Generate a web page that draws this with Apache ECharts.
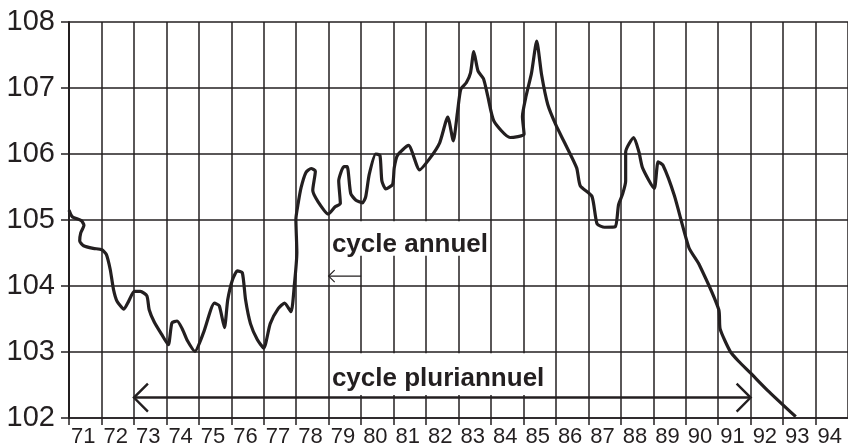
<!DOCTYPE html>
<html>
<head>
<meta charset="utf-8">
<script src="https://cdn.jsdelivr.net/npm/echarts@6/dist/echarts.min.js"></script>
<style>
  html, body { margin: 0; padding: 0; background: #fff; }
  #chart { width: 848px; height: 448px; }
</style>
</head>
<body>
<div id="chart"></div>
<script>
// indice, x = year (71 = 1971), y = index value
var years = [
    71.0, 71.1, 71.38, 71.46, 71.36, 71.33, 71.45, 71.75, 72.01, 72.15,
    72.27, 72.37, 72.48, 72.69, 72.84, 73.01, 73.2, 73.4, 73.47, 73.63,
    73.85, 74.06, 74.17, 74.33, 74.49, 74.65, 74.88, 75.15, 75.48, 75.63,
    75.79, 75.89, 76.04, 76.19, 76.34, 76.44, 76.59, 76.8, 77.0, 77.2,
    77.45, 77.64, 77.84, 77.94, 78.02, 77.99, 78.06, 78.15, 78.3, 78.46,
    78.59, 78.51, 78.67, 78.99, 79.2, 79.36, 79.31, 79.47, 79.57, 79.68,
    79.84, 80.04, 80.14, 80.25, 80.45, 80.58, 80.64, 80.76, 80.97, 81.02,
    81.12, 81.46, 81.8, 82.11, 82.42, 82.67, 82.84, 82.97, 83.07, 83.24,
    83.37, 83.47, 83.6, 83.77, 83.9, 84.09, 84.59, 85.02, 84.97, 85.07,
    85.25, 85.41, 85.56, 85.75, 86.0, 86.27, 86.64, 86.75, 87.11, 87.27,
    87.5, 87.83, 87.93, 88.06, 88.15, 88.15, 88.4, 88.56, 88.67, 89.03,
    89.15, 89.3, 89.65, 90.1, 90.41, 91.02, 91.06, 91.37, 91.63, 92.0,
    92.52, 93.39
];
var index = [
    105.15, 105.05, 104.99, 104.92, 104.8, 104.68, 104.61, 104.57, 104.55, 104.48,
    104.25, 103.95, 103.77, 103.65, 103.77, 103.92, 103.92, 103.85, 103.64, 103.45,
    103.27, 103.11, 103.44, 103.47, 103.35, 103.17, 103.01, 103.3, 103.74, 103.7,
    103.37, 103.79, 104.1, 104.23, 104.2, 103.79, 103.43, 103.19, 103.06, 103.43,
    103.66, 103.74, 103.61, 104.0, 104.51, 105.01, 105.25, 105.49, 105.72, 105.78,
    105.74, 105.45, 105.28, 105.09, 105.2, 105.25, 105.59, 105.81, 105.81, 105.4,
    105.3, 105.26, 105.35, 105.69, 106.0, 105.98, 105.59, 105.47, 105.54, 105.79,
    105.98, 106.13, 105.76, 105.93, 106.17, 106.56, 106.2, 106.64, 106.98, 107.08,
    107.23, 107.55, 107.26, 107.14, 106.88, 106.5, 106.25, 106.3, 106.57, 106.85,
    107.23, 107.71, 107.2, 106.75, 106.44, 106.17, 105.79, 105.52, 105.36, 104.94,
    104.89, 104.9, 105.23, 105.4, 105.59, 106.03, 106.25, 106.03, 105.79, 105.48,
    105.88, 105.83, 105.37, 104.58, 104.33, 103.64, 103.35, 103.01, 102.86, 102.68,
    102.42, 102.02
];

// annotations: [from, to, level] of the arrows, and the two text boxes
var arrows = [
    [73, 92, 102.31],
    [79, 80, 104.15]
];
var notes = ['cycle annuel', 'cycle pluriannuel'];
var noteBoxes = [
    [79.05, 83.95, 104.46, 104.98, 104.62],
    [79.05, 85.9, 102.35, 102.98, 102.6]
];

var ink = '#231f20';
var chart = echarts.init(document.getElementById('chart'));

var option = {
    animation: false,
    backgroundColor: '#fff',
    grid: { left: 69, right: -2, top: 22, bottom: 25 },
    xAxis: {
        type: 'value',
        min: 71,
        max: 95,
        interval: 1,
        axisLine: { show: true, lineStyle: { color: ink, width: 1.5 } },
        axisTick: { show: true, length: 7, lineStyle: { color: ink, width: 1.5 } },
        splitLine: { show: true, lineStyle: { color: ink, width: 1.5 } },
        axisLabel: {
            showMaxLabel: false,
            align: 'left',
            margin: 8,
            padding: [0, 0, 0, 2],
            color: ink,
            fontSize: 22,
            fontFamily: '"Liberation Sans", sans-serif',
            formatter: function (v) { return String(v); }
        }
    },
    yAxis: {
        type: 'value',
        min: 102,
        max: 108,
        interval: 1,
        axisLine: { show: true, lineStyle: { color: ink, width: 2 } },
        axisTick: { show: true, length: 8, lineStyle: { color: ink, width: 1.5 } },
        splitLine: { show: true, lineStyle: { color: ink, width: 1.5 } },
        axisLabel: {
            margin: 14,
            color: ink,
            fontSize: 29,
            fontFamily: '"Liberation Sans", sans-serif'
        }
    },
    series: [
        {
            // white boxes behind the labels, cutting the grid
            type: 'custom',
            data: noteBoxes,
            silent: true,
            renderItem: function (params, api) {
                var b = noteBoxes[params.dataIndex];
                var tl = api.coord([b[0], b[3]]);
                var br = api.coord([b[1], b[2]]);
                var txt = api.coord([b[0] + 0.05, b[4]]);
                return {
                    type: 'group',
                    children: [
                        {
                            type: 'rect',
                            shape: { x: tl[0], y: tl[1], width: br[0] - tl[0], height: br[1] - tl[1] },
                            style: { fill: '#fff' }
                        },
                        {
                            type: 'text',
                            x: txt[0],
                            y: txt[1],
                            style: {
                                text: notes[params.dataIndex],
                                fill: ink,
                                font: 'bold 26px "Liberation Sans", sans-serif',
                                align: 'left',
                                verticalAlign: 'middle'
                            }
                        }
                    ]
                };
            }
        },
        {
            // the two arrows
            type: 'custom',
            data: arrows,
            silent: true,
            renderItem: function (params, api) {
                var a = arrows[params.dataIndex];
                var p1 = api.coord([a[0], a[2]]);
                var p2 = api.coord([a[1], a[2]]);
                var big = params.dataIndex === 0;
                var arm = big ? 14 : 6;
                var w = big ? 2.4 : 1.2;
                var style = { stroke: ink, lineWidth: w, fill: null };
                var kids = [
                    { type: 'line', shape: { x1: p1[0], y1: p1[1], x2: p2[0], y2: p2[1] }, style: style },
                    { type: 'polyline', shape: { points: [[p1[0] + arm, p1[1] - arm], p1, [p1[0] + arm, p1[1] + arm]] }, style: style }
                ];
                if (big) {
                    kids.push({ type: 'polyline', shape: { points: [[p2[0] - arm, p2[1] - arm], p2, [p2[0] - arm, p2[1] + arm]] }, style: style });
                }
                return { type: 'group', children: kids };
            }
        },
        {
            type: 'line',
            data: years.map(function (y, i) { return [y, index[i]]; }),
            symbol: 'none',
            smooth: 0.2,
            clip: false,
            z: 3,
            lineStyle: { color: ink, width: 3.2 }
        }
    ]
};

chart.setOption(option);
</script>
</body>
</html>
